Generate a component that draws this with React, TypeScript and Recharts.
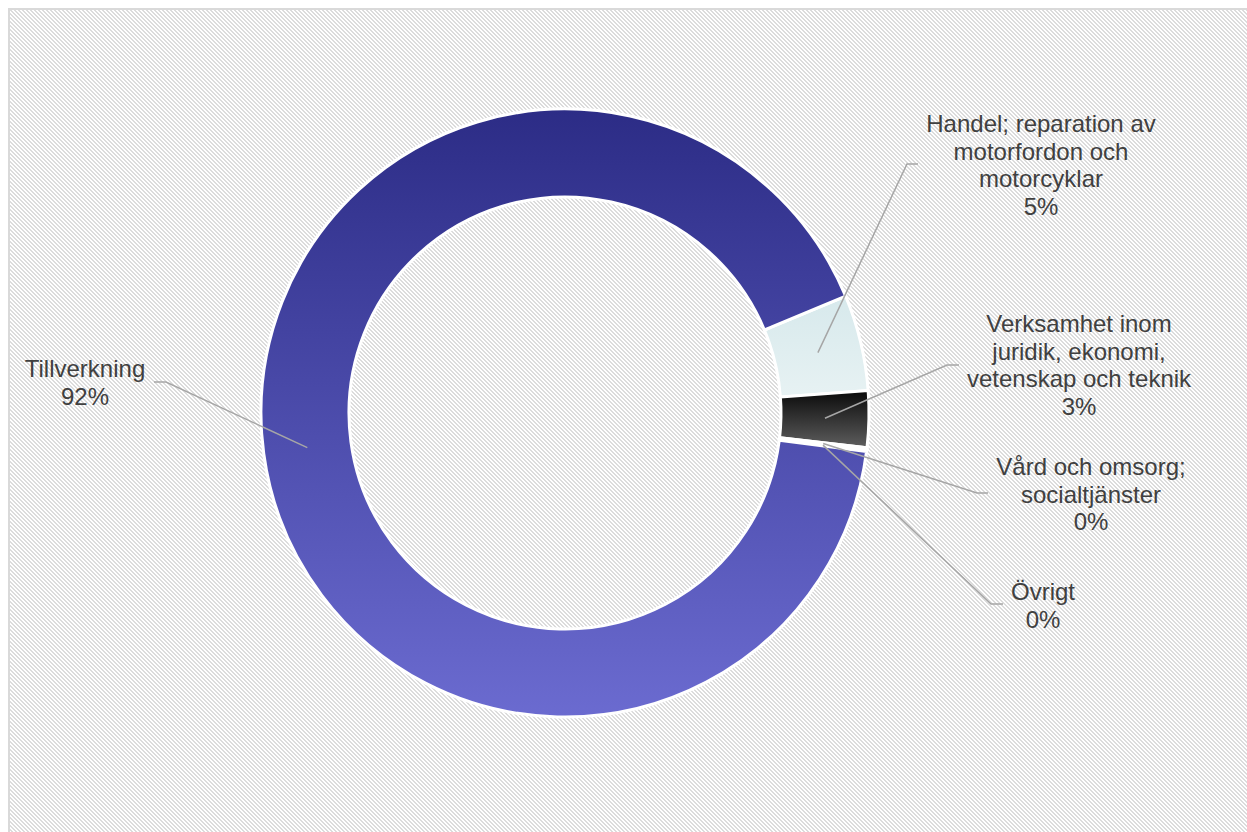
import React from 'react';
import { PieChart, Pie, Cell } from 'recharts';

// ---- data ----
const categories: string[] = [
  'Handel; reparation av motorfordon och motorcyklar',
  'Verksamhet inom juridik, ekonomi, vetenskap och teknik',
  'Vård och omsorg; socialtjänster',
  'Övrigt',
  'Tillverkning',
];
const labelTexts: string[][] = [
  ['Handel; reparation av', 'motorfordon och', 'motorcyklar'],
  ['Verksamhet inom', 'juridik, ekonomi,', 'vetenskap och teknik'],
  ['Vård och omsorg;', 'socialtjänster'],
  ['Övrigt'],
  ['Tillverkning'],
];
const values: number[] = [5.1, 3.0, 0.1, 0.1, 91.7];

// ---- layout (offsets from pie centre) ----
const labelLayout = [
  { tx: 476, ty: -281, ex: 342, ey: -249, hx: 353 },
  { tx: 514, ty: -81, ex: 382, ey: -48, hx: 394 },
  { tx: 526, ty: 62, ex: 412, ey: 80, hx: 423 },
  { tx: 478, ty: 187, ex: 426, ey: 191, hx: 438 },
  { tx: -480, ty: -36, ex: -399, ey: -31, hx: -411 },
];
const fills = ['url(#gHandel)', 'url(#gVerk)', 'url(#gVard)', 'url(#gOvr)', 'url(#gTill)'];

const data = categories.map((name, i) => ({ name, value: values[i], lines: labelTexts[i] }));

const RAD = Math.PI / 180;
const LINE_H = 27.5;

const renderLabel = (props: any) => {
  const { cx, cy, midAngle, innerRadius, outerRadius, index, percent } = props;
  const r = (innerRadius + outerRadius) / 2;
  const ax = cx + r * Math.cos(-midAngle * RAD);
  const ay = cy + r * Math.sin(-midAngle * RAD);
  const L = labelLayout[index];
  const lines = [...data[index].lines, `${Math.round(percent * 100)}%`];
  return (
    <g key={`lbl-${index}`}>
      <polyline
        points={`${ax},${ay} ${cx + L.ex},${cy + L.ey} ${cx + L.hx},${cy + L.ey}`}
        fill="none"
        stroke="#a6a6a6"
        strokeWidth={1.5}
      />
      <text
        x={cx + L.tx}
        y={cy + L.ty}
        textAnchor="middle"
        fill="#404040"
        fontSize={24}
        fontFamily="'Liberation Sans', Arial, sans-serif"
      >
        {lines.map((t, k) => (
          <tspan key={k} x={cx + L.tx} dy={k === 0 ? 0 : LINE_H}>
            {t}
          </tspan>
        ))}
      </text>
    </g>
  );
};

const stripe =
  "url(\"data:image/svg+xml;utf8,<svg xmlns='http://www.w3.org/2000/svg' width='4' height='4'><path d='M0 0h2v1H0zM1 1h2v1H1zM2 2h2v1H2zM3 3h1v1H3zM0 3h1v1H0z' fill='%23dcdcdc'/></svg>\")";

export default function App() {
  return (
    <div>
      <svg width={0} height={0} style={{ position: 'absolute' }}>
        <defs>
          <linearGradient id="gTill" x1="0" y1="0" x2="0" y2="1">
            <stop offset="0%" stopColor="#2c2c86" />
            <stop offset="100%" stopColor="#6b6bd0" />
          </linearGradient>
          <linearGradient id="gHandel" x1="0" y1="0" x2="0" y2="1">
            <stop offset="0%" stopColor="#d7e9ec" />
            <stop offset="100%" stopColor="#e7f2f3" />
          </linearGradient>
          <linearGradient id="gVerk" x1="0" y1="0" x2="0" y2="1">
            <stop offset="0%" stopColor="#0a0a0a" />
            <stop offset="100%" stopColor="#5e5e5e" />
          </linearGradient>
          <linearGradient id="gVard" x1="0" y1="0" x2="0" y2="1">
            <stop offset="0%" stopColor="#7f7f7f" />
            <stop offset="100%" stopColor="#a5a5a5" />
          </linearGradient>
          <linearGradient id="gOvr" x1="0" y1="0" x2="0" y2="1">
            <stop offset="0%" stopColor="#8fb4d8" />
            <stop offset="100%" stopColor="#b4cfe8" />
          </linearGradient>
        </defs>
      </svg>
      <div
        style={{
          position: 'fixed',
          left: 8,
          top: 8,
          width: 1239,
          height: 824,
          backgroundColor: '#ffffff',
          backgroundImage: stripe,
          boxShadow: 'inset 2px 2px 0 0 #d9d9d9',
        }}
      >
        <PieChart width={1239} height={824} margin={{ top: 0, right: 0, bottom: 0, left: 0 }}>
          <Pie
            data={data}
            dataKey="value"
            nameKey="name"
            cx={557}
            cy={405}
            innerRadius={216}
            outerRadius={304}
            startAngle={22.6}
            endAngle={-337.4}
            stroke="#ffffff"
            strokeWidth={3}
            label={renderLabel}
            labelLine={false}
            isAnimationActive={false}
          >
            {data.map((d, i) => (
              <Cell key={d.name} fill={fills[i]} />
            ))}
          </Pie>
        </PieChart>
      </div>
    </div>
  );
}
